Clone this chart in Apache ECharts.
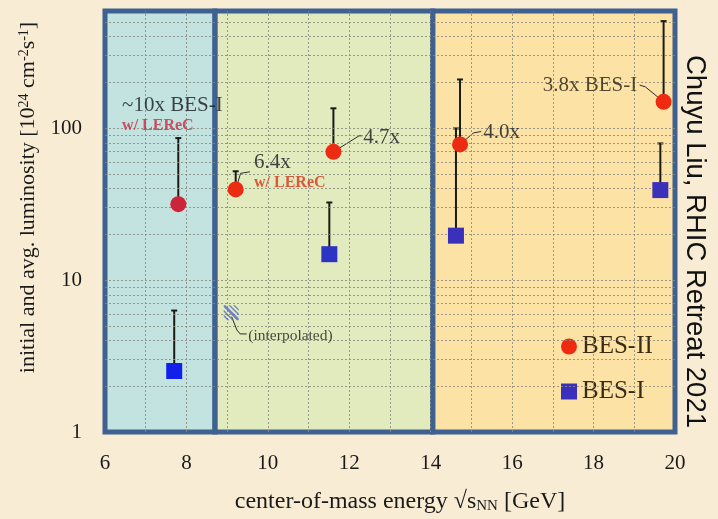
<!DOCTYPE html>
<html>
<head>
<meta charset="utf-8">
<script src="https://cdn.jsdelivr.net/npm/echarts@6/dist/echarts.min.js"></script>
<style>
  html, body { margin: 0; padding: 0; background: #f8ecd4; }
  #chart { width: 718px; height: 519px; }
</style>
</head>
<body>
<div id="chart"></div>
<script>
// BES-II (LEReC cooled) average luminosity and the initial (peak) value above it
const energyBES2 = [7.80, 9.21, 11.61, 14.72, 19.72];
const avgLumiBES2 = [31.6, 39.5, 69.8, 78.1, 149];
const initLumiBES2 = [86, 52, 135, 209, 506];

// BES-I average and initial luminosity
const energyBES1 = [7.70, 11.51, 14.62, 19.64];
const avgLumiBES1 = [2.52, 14.8, 19.6, 39.1];
const initLumiBES1 = [6.3, 32.4, 99.5, 79.3];

// axes
const xTickLabels = [6, 8, 10, 12, 14, 16, 18, 20];
const yTickLabels = [1, 10, 100];
const yRange = [1, 590];

// energy ranges of the three running regimes
const regionEdges = [6, 8.7, 14.05, 20];

// log-paper grid
const gridLinesY = [2, 3, 4, 5, 6, 7, 8, 9, 10, 20, 30, 40, 50, 60, 70, 80, 90, 100, 200, 300, 400, 500];
const gridLinesX = [7, 8, 9, 10, 11, 12, 13, 14, 15, 16, 17, 18, 19];

// text annotations: [energy, luminosity, text, style]
const annotations = [
  [6.42, 140, '~10x BES-I', 'main'],
  [6.42, 103, 'w/ LEReC', 'lerecDeep'],
  [9.66, 59, '6.4x', 'main'],
  [9.66, 43.5, 'w/ LEReC', 'lerec'],
  [12.34, 87, '4.7x', 'main'],
  [15.29, 94, '4.0x', 'main'],
  [19.07, 192, '3.8x BES-I', 'mainRight'],
  [9.52, 4.3, '(interpolated)', 'small']
];

// leader lines from the factors to their points
const leaders = [
  [[9.21, 39.5], [9.33, 50.4], [9.56, 51.6]],
  [[11.61, 69.8], [12.24, 89], [12.32, 89]],
  [[14.72, 78.1], [15.05, 93], [15.24, 95]],
  [[19.13, 192], [19.27, 187], [19.72, 149]],
  [[9.11, 5.74], [9.24, 4.69], [9.32, 4.42], [9.48, 4.42]]
];
const interpolatedMark = [9.10, 6.1];

const serif = '"Liberation Serif", "Times New Roman", serif';
const ink = '#141824';

const regionColors = ['#c3e3e0', '#e2ebbe', '#fce3a5'];
const frameColor = '#3f6191';
const bes2Colors = ['#cc2438', '#ec2c12', '#ec2c12', '#ec2c12', '#ee2a10'];
const bes1Colors = ['#1020ea', '#2c34c4', '#3a30bc', '#3a30bc'];

const labelStyles = {
  main: { fontSize: 21, color: ink, align: 'left' },
  mainRight: { fontSize: 21, color: '#261f10', align: 'right' },
  lerecDeep: { fontSize: 16, fontWeight: 'bold', color: '#c42a40', align: 'left' },
  lerec: { fontSize: 16, fontWeight: 'bold', color: '#d8341c', align: 'left' },
  small: { fontSize: 15.5, color: '#1a1a1a', align: 'left' }
};

const chart = echarts.init(document.getElementById('chart'), null, { renderer: 'canvas' });

const regionPairs = [];
for (let i = 0; i < regionEdges.length - 1; i++) {
  regionPairs.push([regionEdges[i], regionEdges[i + 1], regionColors[i]]);
}

function errorBar(params, api) {
  const x = api.value(0);
  const base = api.coord([x, api.value(1)]);
  const top = api.coord([x, api.value(2)]);
  const cap = 3;
  const style = { stroke: '#1a1a14', lineWidth: 2 };
  return {
    type: 'group',
    children: [
      { type: 'line', shape: { x1: base[0], y1: base[1], x2: top[0], y2: top[1] }, style: style },
      { type: 'line', shape: { x1: top[0] - cap, y1: top[1], x2: top[0] + cap, y2: top[1] }, style: style }
    ]
  };
}

function leaderLine(params, api) {
  const pts = leaders[api.value(0)].map(p => api.coord(p));
  return {
    type: 'polyline',
    shape: { points: pts },
    style: { stroke: '#2a2a2a', lineWidth: 1, fill: null }
  };
}

const errorData = [];
energyBES2.forEach((e, i) => errorData.push([e, avgLumiBES2[i], initLumiBES2[i]]));
energyBES1.forEach((e, i) => errorData.push([e, avgLumiBES1[i], initLumiBES1[i]]));

const hatchPath = 'path://M0,0L2,0L16,14L16,16L14,16L0,2Z M5,0L7,0L16,9L16,11Z M0,5L11,16L9,16L0,7Z M10,0L12,0L16,4L16,6Z M0,10L6,16L4,16L0,12Z';

const option = {
  backgroundColor: '#f8ecd4',
  animation: false,
  grid: { left: 105, right: 43, top: 11, bottom: 87, containLabel: false },
  legend: {
    orient: 'vertical',
    left: 556,
    top: 329,
    itemWidth: 16,
    itemHeight: 16,
    itemGap: 20,
    textStyle: { fontFamily: serif, fontSize: 25, color: '#3a2c14' },
    data: [
      { name: 'BES-II', icon: 'circle' },
      { name: 'BES-I', icon: 'rect' }
    ]
  },
  xAxis: {
    type: 'value',
    min: xTickLabels[0],
    max: xTickLabels[xTickLabels.length - 1],
    interval: 2,
    axisLine: { show: false },
    axisTick: { show: false },
    splitLine: { show: false },
    axisLabel: { fontFamily: serif, fontSize: 21, color: '#1a1a1a', margin: 21 },
    name: 'center-of-mass energy \u221As{sub|NN} [GeV]',
    nameLocation: 'middle',
    nameGap: 58,
    nameTextStyle: {
      fontFamily: serif, fontSize: 24, color: '#1a1a1a', padding: [0, 0, 0, 20],
      rich: { sub: { fontFamily: serif, fontSize: 15, color: '#1a1a1a', verticalAlign: 'bottom' } }
    }
  },
  yAxis: {
    type: 'log',
    logBase: 10,
    min: yRange[0],
    max: yRange[1],
    axisLine: { show: false },
    axisTick: { show: false },
    splitLine: { show: false },
    axisLabel: {
      fontFamily: serif, fontSize: 21, color: '#1a1a1a', margin: 23,
      formatter: v => yTickLabels.some(t => Math.abs(t - v) < 1e-6 * t) ? String(Math.round(v)) : ''
    },
    name: 'initial and avg. luminosity [10{sup|24} cm{sup|-2}s{sup|-1}]',
    nameLocation: 'middle',
    nameGap: 66,
    nameTextStyle: {
      fontFamily: serif, fontSize: 22, color: '#1a1a1a', padding: [0, 0, 0, 48],
      rich: { sup: { fontFamily: serif, fontSize: 14, color: '#1a1a1a', verticalAlign: 'top' } }
    }
  },
  graphic: [{
    type: 'text',
    x: 695,
    y: 55,
    rotation: -Math.PI / 2,
    style: {
      text: 'Chuyu Liu, RHIC Retreat 2021',
      font: '27.5px "Liberation Sans", Arial, sans-serif',
      fill: '#111',
      textAlign: 'left',
      textVerticalAlign: 'middle'
    }
  }],
  series: [
    {
      name: 'regions',
      type: 'line',
      data: [],
      z: 1,
      silent: true,
      markArea: {
        silent: true,
        data: regionPairs.map(r => [
          { xAxis: r[0], itemStyle: { color: r[2], borderWidth: 0 } },
          { xAxis: r[1] }
        ])
      }
    },
    {
      name: 'paper',
      type: 'line',
      data: [],
      z: 2,
      silent: true,
      markLine: {
        silent: true,
        symbol: 'none',
        label: { show: false },
        lineStyle: { color: '#8a8a7e', width: 1, type: [2, 2], opacity: 0.85 },
        data: gridLinesY.map(v => ({ yAxis: v })).concat(gridLinesX.map(v => ({ xAxis: v })))
      }
    },
    {
      name: 'frames',
      type: 'line',
      data: [],
      z: 3,
      silent: true,
      markArea: {
        silent: true,
        data: regionPairs.map(r => [
          { xAxis: r[0], itemStyle: { color: 'rgba(0,0,0,0)', borderColor: frameColor, borderWidth: 5 } },
          { xAxis: r[1] }
        ])
      }
    },
    {
      name: 'initial',
      type: 'custom',
      z: 4,
      silent: true,
      renderItem: errorBar,
      encode: { x: 0, y: [1, 2] },
      data: errorData
    },
    {
      name: 'leaders',
      type: 'custom',
      z: 4,
      silent: true,
      renderItem: leaderLine,
      data: leaders.map((c, i) => [i])
    },
    {
      name: 'BES-II',
      type: 'scatter',
      z: 6,
      symbol: 'circle',
      symbolSize: 16,
      itemStyle: { color: '#ee2a10', opacity: 1 },
      data: energyBES2.map((e, i) => ({ value: [e, avgLumiBES2[i]], itemStyle: { color: bes2Colors[i] } }))
    },
    {
      name: 'BES-I',
      type: 'scatter',
      z: 6,
      symbol: 'rect',
      symbolSize: 16,
      itemStyle: { color: '#3a30bc', opacity: 1 },
      data: energyBES1.map((e, i) => ({ value: [e, avgLumiBES1[i]], itemStyle: { color: bes1Colors[i] } }))
    },
    {
      name: 'interpolated',
      type: 'scatter',
      z: 5,
      silent: true,
      symbol: hatchPath,
      symbolSize: 15,
      itemStyle: { color: '#5468c0' },
      data: [interpolatedMark]
    },
    {
      name: 'notes',
      type: 'scatter',
      z: 7,
      silent: true,
      symbolSize: 1,
      itemStyle: { color: 'rgba(0,0,0,0)' },
      data: annotations.map(a => ({
        value: [a[0], a[1]],
        label: Object.assign({
          show: true,
          position: 'inside',
          verticalAlign: 'middle',
          fontFamily: serif,
          textBorderWidth: 0,
          textBorderColor: 'transparent',
          textShadowBlur: 0,
          formatter: a[2]
        }, labelStyles[a[3]])
      }))
    }
  ]
};

chart.setOption(option);
</script>
</body>
</html>
